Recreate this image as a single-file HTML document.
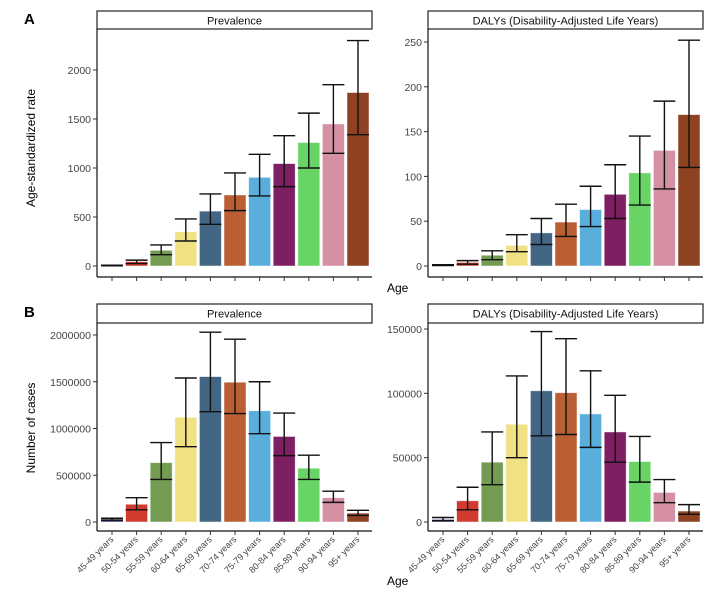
<!DOCTYPE html>
<html><head><meta charset="utf-8"><style>
body{margin:0;background:#fff;}
svg{display:block;font-family:"Liberation Sans",Arial,sans-serif;}
</style></head><body>
<svg id="c" width="723" height="592" viewBox="0 0 723 592">
<text x="24" y="24" font-size="15" font-weight="bold">A</text>
<text x="24" y="317" font-size="15" font-weight="bold">B</text>
<text x="35" y="148" font-size="12" text-anchor="middle" transform="rotate(-90 35 148)">Age-standardized rate</text>
<text x="35" y="428" font-size="12" text-anchor="middle" transform="rotate(-90 35 428)">Number of cases</text>
<text x="387" y="292" font-size="12">Age</text>
<text x="387" y="585" font-size="12">Age</text>
</svg>
<script>
const categories=["45-49 years","50-54 years","55-59 years","60-64 years","65-69 years","70-74 years","75-79 years","80-84 years","85-89 years","90-94 years","95+ years"];
const colors=["#3b3b8c","#d03a2f","#739c52","#f0e284","#436684","#b95f33","#5aaedb","#7f1f63","#68d466","#d590a3","#8e4221"];
const prevRateVal=[5,45,160,350,560,725,905,1045,1260,1450,1770];
const prevRateLo=[2,25,115,255,425,565,715,810,1000,1150,1340];
const prevRateHi=[8,60,215,480,735,950,1140,1330,1560,1850,2300];
const dalyRateVal=[1,4,12,23,37,49,63,80,104,129,169];
const dalyRateLo=[0.5,2,7,16,24,33,44,53,68,86,110];
const dalyRateHi=[1.5,6,17,35,53,69,89,113,145,184,252];
const prevNumVal=[30000,190000,635000,1120000,1555000,1495000,1190000,915000,575000,260000,95000];
const prevNumLo=[20000,130000,455000,805000,1180000,1160000,945000,710000,455000,210000,70000];
const prevNumHi=[40000,260000,850000,1540000,2030000,1955000,1500000,1165000,715000,330000,125000];
const dalyNumVal=[2000,16500,46500,76000,102000,100500,84000,70000,47000,23000,8500];
const dalyNumLo=[1000,9500,29000,50000,67000,68000,58000,46500,31000,15000,6000];
const dalyNumHi=[3500,27000,70000,113500,148000,142500,117500,98500,66500,33000,13500];
const ticksPrevRate=[0,500,1000,1500,2000];
const ticksDalyRate=[0,50,100,150,200,250];
const ticksPrevNum=[0,500000,1000000,1500000,2000000];
const ticksDalyNum=[0,50000,100000,150000];

const NS="http://www.w3.org/2000/svg";
const svg=document.getElementById('c');
function mk(tag,attrs,parent){const e=document.createElementNS(NS,tag);for(const k in attrs)e.setAttribute(k,attrs[k]);(parent||svg).appendChild(e);return e;}

function panel(name,x0,x1,stripTop,plotTop,axisY,y0px,topVal,topPx,title,ticks,val,lo,hi,showLabels){
  const g=mk('g',{});
  
  
  const yS=v=>y0px-(v/topVal)*(y0px-topPx);
  const step=24.6, first=x0+15;
  const xS=i=>first+i*step;
  const strip=mk('rect',{x:x0,y:stripTop,width:x1-x0,height:plotTop-stripTop,fill:'#fff',stroke:'#222','stroke-width':1.2},g);
  
  
  const st=mk('text',{x:(x0+x1)/2,y:stripTop+13.5,'font-size':11,'text-anchor':'middle',fill:'#111'},g);
  st.textContent=title;
  
  
  mk('line',{x1:x0,y1:plotTop,x2:x0,y2:axisY,stroke:'#111','stroke-width':1.2},g);
  mk('line',{x1:x0,y1:axisY,x2:x1,y2:axisY,stroke:'#111','stroke-width':1.2},g);
  ticks.forEach(t=>{
    const y=yS(t);
    mk('line',{x1:x0-4,y1:y,x2:x0,y2:y,stroke:'#333'},g);
    const tt=mk('text',{x:x0-6,y:y+4,'font-size':10.5,'text-anchor':'end',fill:'#444'},g);
    tt.textContent=t;
    
    
  });
  categories.forEach((c,i)=>{
    const cx=xS(i), w=22;
    const b=mk('rect',{x:cx-w/2,y:yS(val[i]),width:w,height:y0px-yS(val[i]),fill:colors[i],stroke:'#fff','stroke-opacity':0.6,'stroke-width':0.8},g);
    
    
    const e=mk('g',{stroke:'#111','stroke-width':1.4},g);
    
    
    mk('line',{x1:cx,y1:yS(lo[i]),x2:cx,y2:yS(hi[i])},e);
    mk('line',{x1:cx-11,y1:yS(lo[i]),x2:cx+11,y2:yS(lo[i])},e);
    mk('line',{x1:cx-11,y1:yS(hi[i]),x2:cx+11,y2:yS(hi[i])},e);
    mk('line',{x1:cx,y1:axisY,x2:cx,y2:axisY+4,stroke:'#333'},g);
    if(showLabels){
      const lx=cx+2, ly=axisY+9;
      const tl=mk('text',{x:lx,y:ly,'font-size':9,'text-anchor':'end',fill:'#444',transform:'rotate(-45 '+lx+' '+ly+')'},g);
      tl.textContent=c;
      
      
    }
  });
}
panel('prevalence-rate-panel',97,372,11,29,277,266,2000,70,'Prevalence',ticksPrevRate,prevRateVal,prevRateLo,prevRateHi,false);
panel('daly-rate-panel',428,703,11,29,277,266,250,42,'DALYs (Disability-Adjusted Life Years)',ticksDalyRate,dalyRateVal,dalyRateLo,dalyRateHi,false);
panel('prevalence-cases-panel',97,372,304,323,531,522,2000000,335,'Prevalence',ticksPrevNum,prevNumVal,prevNumLo,prevNumHi,true);
panel('daly-cases-panel',428,703,304,323,531,522,150000,329,'DALYs (Disability-Adjusted Life Years)',ticksDalyNum,dalyNumVal,dalyNumLo,dalyNumHi,true);
</script>
</body></html>
